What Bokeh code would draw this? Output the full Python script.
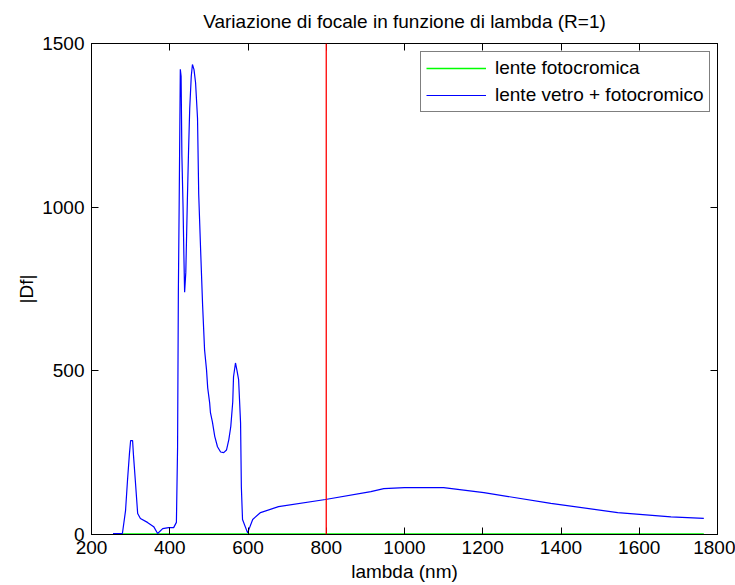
from bokeh.plotting import figure
from bokeh.models import Range1d, FixedTicker, LinearAxis, Span, Legend, LegendItem
from bokeh.embed import file_html
from bokeh.resources import INLINE

# ---- data ----
blue_lambda = [255, 279, 287, 292, 297, 300, 305, 307, 312, 318, 325, 343, 359, 369, 382, 397,
               410, 417, 420, 422, 424, 427, 429, 431, 434, 436, 438, 441, 445, 448, 451, 455,
               458, 462, 466, 471, 474, 479, 484, 489, 494, 497, 502, 504, 509, 515, 522, 530,
               538, 545, 551, 556, 561, 563, 568, 572, 576, 581, 583, 586, 599, 612, 632, 678,
               798, 914, 947, 1000, 1100, 1203, 1374, 1545, 1681, 1765]
blue_df = [3, 3, 73, 165, 247, 287, 287, 247, 165, 64, 49, 37, 24, 3, 18, 21,
           21, 37, 265, 740, 1000, 1421, 1400, 1160, 1000, 860, 740, 800, 1020, 1170, 1300, 1400,
           1436, 1420, 1380, 1271, 1040, 866, 700, 564, 503, 448, 402, 372, 344, 300, 268, 252,
           250, 258, 290, 330, 405, 482, 524, 500, 473, 341, 146, 46, 5, 46, 67, 85,
           107, 131, 140, 143, 143, 128, 95, 67, 54, 49]

green_lambda = [270, 400, 500, 600, 800, 1000, 1200, 1400, 1765]
green_df = [2, 2, 2, 2, 2, 2, 2, 2, 2]

cutoff_lambda = 800

x_ticks = [200, 400, 600, 800, 1000, 1200, 1400, 1600, 1800]
y_ticks = [0, 500, 1000, 1500]

FONT = "Liberation Sans"
FS = "19px"

p = figure(width=735, height=584, output_backend="svg", toolbar_location=None,
           x_range=Range1d(200, 1800), y_range=Range1d(0, 1500),
           title="Variazione di focale in funzione di lambda (R=1)",
           min_border_left=91, min_border_right=18, min_border_top=43, min_border_bottom=40)

p.title.align = "center"
p.title.vertical_align = "top"
p.title.text_font = FONT
p.title.text_font_size = FS
p.title.text_font_style = "normal"
p.title.text_color = "black"
p.title.padding = 0
p.title.text_line_height = 1.0
p.title.standoff = 19

p.xgrid.visible = False
p.ygrid.visible = False
p.outline_line_color = "black"
p.outline_line_width = 1
p.background_fill_color = "white"
p.border_fill_color = "white"

for ax in (p.xaxis[0], p.yaxis[0]):
    ax.major_label_text_font = FONT
    ax.major_label_text_font_size = FS
    ax.axis_label_text_font = FONT
    ax.axis_label_text_font_size = FS
    ax.axis_label_text_font_style = "normal"
    ax.axis_label_text_color = "black"
    ax.major_tick_in = 7
    ax.major_tick_out = 0
    ax.minor_tick_in = 0
    ax.minor_tick_out = 0
    ax.axis_line_color = "black"
    ax.major_tick_line_color = "black"
    ax.major_label_text_color = "black"

p.xaxis[0].ticker = FixedTicker(ticks=x_ticks)
p.yaxis[0].ticker = FixedTicker(ticks=y_ticks)
p.xaxis[0].axis_label = "lambda (nm)"
p.yaxis[0].axis_label = "|Df|"
p.xaxis[0].major_label_standoff = 6
p.xaxis[0].axis_label_standoff = 4
p.yaxis[0].major_label_standoff = 7
p.yaxis[0].axis_label_standoff = 2

top_ax = LinearAxis(ticker=FixedTicker(ticks=x_ticks),
                    major_label_overrides={t: "" for t in x_ticks},
                    major_tick_in=7, major_tick_out=0, minor_tick_in=0, minor_tick_out=0,
                    major_label_standoff=0, axis_line_color="black")
right_ax = LinearAxis(ticker=FixedTicker(ticks=y_ticks),
                      major_label_overrides={t: "" for t in y_ticks},
                      major_tick_in=7, major_tick_out=0, minor_tick_in=0, minor_tick_out=0,
                      major_label_standoff=0, axis_line_color="black")
p.add_layout(top_ax, "above")
p.add_layout(right_ax, "right")

g = p.line(green_lambda, green_df, line_color="#00ff00", line_width=1.3)
b = p.line(blue_lambda, blue_df, line_color="#0000ff", line_width=1.2)

p.add_layout(Span(location=cutoff_lambda, dimension="height", line_color="#ff0000", line_width=1.3))

legend = Legend(items=[LegendItem(label="lente fotocromica", renderers=[g]),
                       LegendItem(label="lente vetro + fotocromico", renderers=[b])],
                location=(329, 422))
legend.label_text_font = FONT
legend.label_text_font_size = FS
legend.label_text_color = "black"
legend.border_line_color = "black"
legend.border_line_width = 1
legend.background_fill_alpha = 1
legend.padding = 5
legend.spacing = 5
legend.glyph_width = 60
legend.glyph_height = 20
legend.label_height = 20
legend.label_standoff = 9
legend.margin = 0
p.add_layout(legend, "center")

open("out.html", "w").write(file_html(p, INLINE))
